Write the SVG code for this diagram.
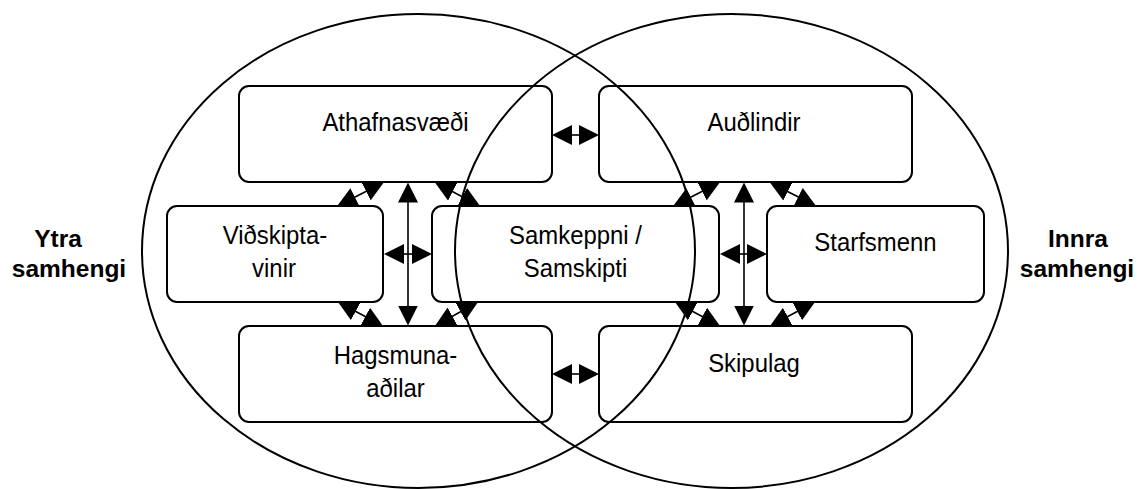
<svg xmlns="http://www.w3.org/2000/svg" width="1138" height="489" viewBox="0 0 1138 489">
<style>
.bg{fill:#fff}
.ell{fill:none;stroke:#000;stroke-width:2}
.box{fill:none;stroke:#000;stroke-width:2}
.lbl{font-family:"Liberation Sans",Arial,sans-serif;font-size:26px;fill:#000;text-anchor:middle}
.side{font-family:"Liberation Sans",Arial,sans-serif;font-size:24.5px;font-weight:bold;fill:#000;text-anchor:middle}
.arr{fill:none;stroke:#000;stroke-width:1.6;marker-start:url(#ah);marker-end:url(#ah)}
</style>
<defs>
<marker id="ah" markerUnits="userSpaceOnUse" markerWidth="20" markerHeight="20" refX="2" refY="10" orient="auto-start-reverse" viewBox="0 0 20 20">
<path d="M0,0 L20,10 L0,20 Z" fill="#000"/>
</marker>
</defs>
<rect class="bg" x="0" y="0" width="1138" height="489"/>
<g id="circles">
<ellipse class="ell" cx="418.5" cy="251" rx="276.5" ry="237"/>
<ellipse class="ell" cx="731.5" cy="251" rx="276.5" ry="237"/>
</g>
<g id="connectors">
<line class="arr" x1="570" y1="135" x2="581" y2="135"/>
<line class="arr" x1="402" y1="254" x2="414" y2="254"/>
<line class="arr" x1="738" y1="254" x2="749" y2="254"/>
<line class="arr" x1="570" y1="374" x2="581" y2="374"/>
<line class="arr" x1="408" y1="200.5" x2="408" y2="307.5"/>
<line class="arr" x1="744" y1="200.5" x2="744" y2="307.5"/>
<line class="arr" x1="353.1" y1="198" x2="367.9" y2="190.5"/>
<line class="arr" x1="450.9" y1="190.8" x2="464.1" y2="197.7"/>
<line class="arr" x1="353.9" y1="310.5" x2="367.1" y2="317.5"/>
<line class="arr" x1="450.7" y1="317.2" x2="462.3" y2="310.8"/>
<line class="arr" x1="689.1" y1="198" x2="703.9" y2="190.5"/>
<line class="arr" x1="786" y1="190.7" x2="800" y2="197.8"/>
<line class="arr" x1="690.9" y1="310.5" x2="704.1" y2="317.5"/>
<line class="arr" x1="785.9" y1="317.5" x2="799.1" y2="310.5"/>
</g>
<g id="athafnasvaedi">
<rect class="box" x="239" y="86" width="313" height="96" rx="10"/>
<text class="lbl" transform="translate(395.5,131) scale(0.92,1)">Athafnasvæði</text>
</g>
<g id="audlindir">
<rect class="box" x="599" y="86" width="313" height="96" rx="10"/>
<text class="lbl" transform="translate(754,131) scale(0.92,1)">Auðlindir</text>
</g>
<g id="vidskiptavinir">
<rect class="box" x="167" y="206" width="216" height="96" rx="10"/>
<text class="lbl" transform="translate(275,244) scale(0.92,1)">Viðskipta-</text>
<text class="lbl" transform="translate(274,277) scale(0.92,1)">vinir</text>
</g>
<g id="samkeppni">
<rect class="box" x="432" y="206" width="287" height="96" rx="10"/>
<text class="lbl" transform="translate(575.5,244) scale(0.92,1)">Samkeppni /</text>
<text class="lbl" transform="translate(575.5,277) scale(0.92,1)">Samskipti</text>
</g>
<g id="starfsmenn">
<rect class="box" x="767" y="206" width="217" height="96" rx="10"/>
<text class="lbl" transform="translate(875.5,251) scale(0.92,1)">Starfsmenn</text>
</g>
<g id="hagsmunaadilar">
<rect class="box" x="239" y="326" width="313" height="96" rx="10"/>
<text class="lbl" transform="translate(395.5,364) scale(0.92,1)">Hagsmuna-</text>
<text class="lbl" transform="translate(395.5,397) scale(0.92,1)">aðilar</text>
</g>
<g id="skipulag">
<rect class="box" x="599" y="326" width="313" height="96" rx="10"/>
<text class="lbl" transform="translate(754,372) scale(0.92,1)">Skipulag</text>
</g>
<g id="ytra">
<text class="side" x="58" y="247">Ytra</text>
<text class="side" x="69" y="277">samhengi</text>
</g>
<g id="innra">
<text class="side" x="1078" y="247">Innra</text>
<text class="side" x="1077" y="277">samhengi</text>
</g>
</svg>
